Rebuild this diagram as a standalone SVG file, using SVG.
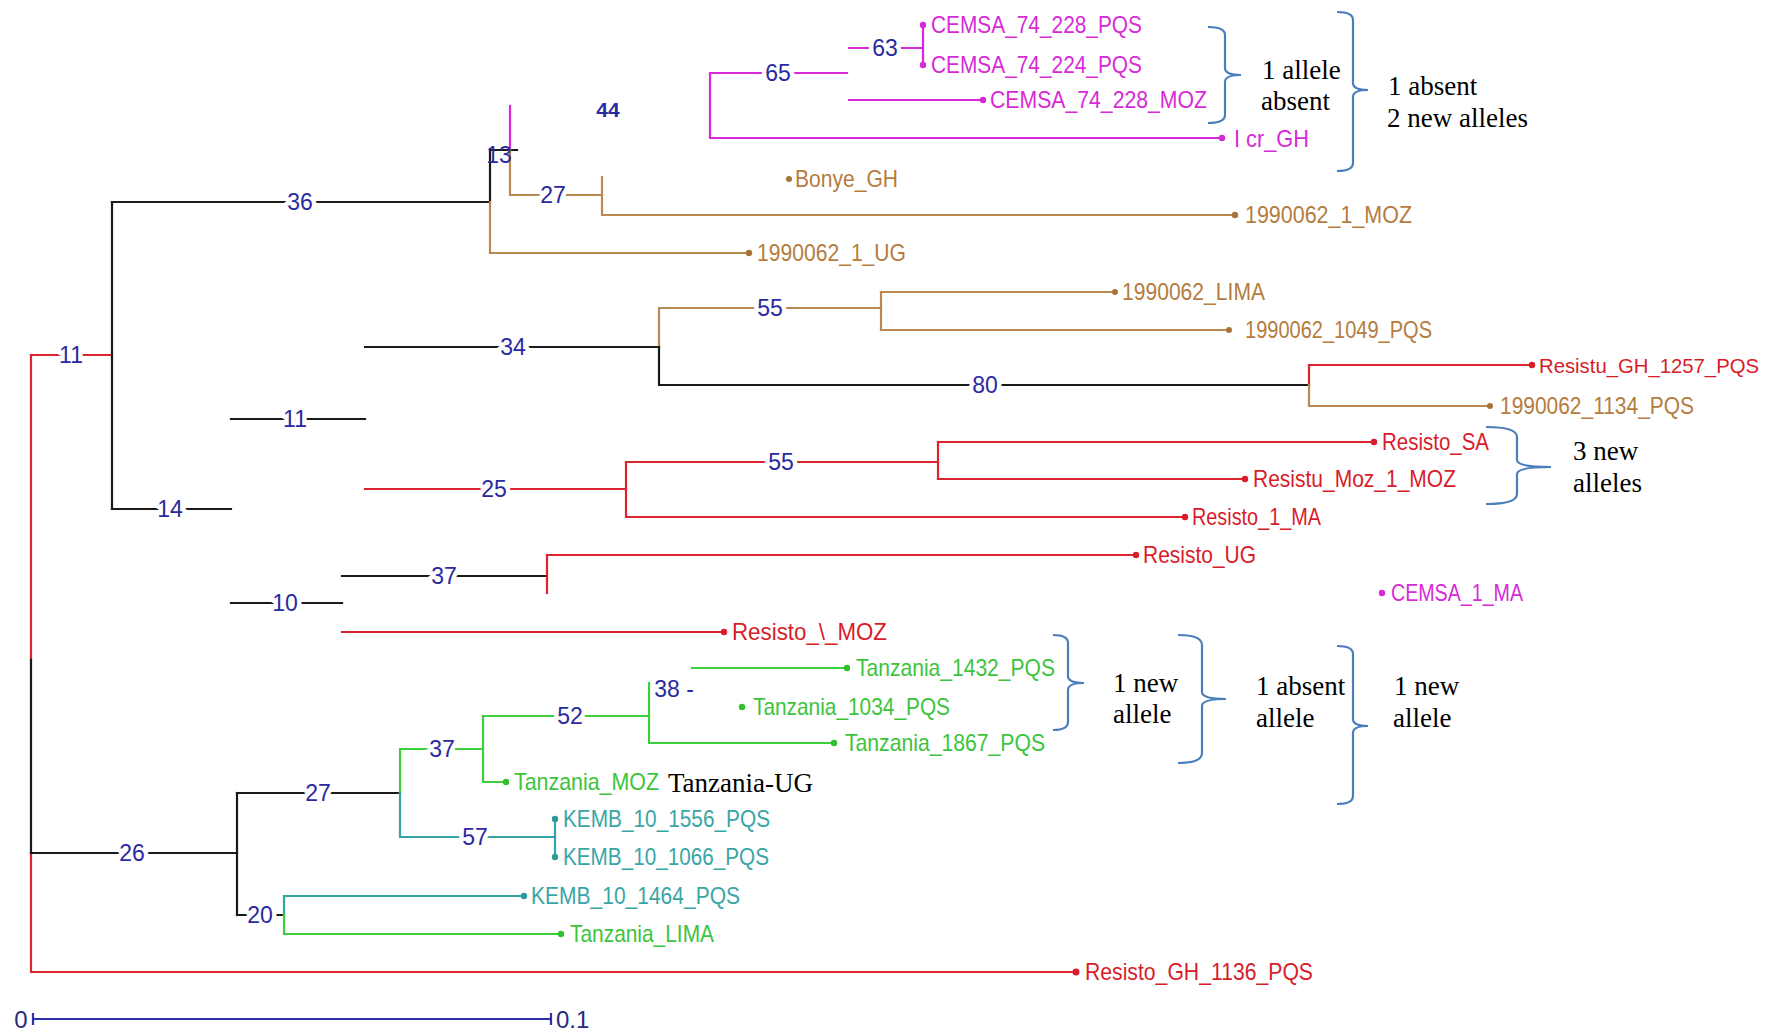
<svg xmlns="http://www.w3.org/2000/svg" width="1782" height="1032" viewBox="0 0 1782 1032">
<style>
.l{fill:none;stroke-width:2.2;stroke-linecap:square}
.k{stroke:#1a1a1a}.r{stroke:#dc2330}.t{stroke:#b88a52}.m{stroke:#d928d9}.g{stroke:#3ccf3c}.c{stroke:#34a3a3}
.lf{font-family:"Liberation Sans",Arial,sans-serif;font-size:24px}
.tr{fill:#d81c2a}.tt{fill:#b57c3e}.tm{fill:#d62ad6}.tg{fill:#3cc43c}.tc{fill:#38a6a6}
.dr{fill:#d81c2a}.dt{fill:#a8733a}.dm{fill:#d62ad6}.dg{fill:#2fbf2f}.dc{fill:#2f9a9a}
.n{font-family:"Liberation Sans",Arial,sans-serif;font-size:23px;fill:#2a2aa0;text-anchor:middle;paint-order:stroke;stroke:#fff;stroke-width:9px;stroke-linejoin:round}
.br{fill:none;stroke:#4a7ebb;stroke-width:2.2}
.a{font-family:"Liberation Serif","Times New Roman",serif;font-size:27px;fill:#000}
</style>
<rect width="1782" height="1032" fill="#fff"/>
<g id="connectors">
<path class="l r" d="M31,355V660"/>
<path class="l k" d="M31,660V853"/>
<path class="l r" d="M31,853V972H1076"/>
<path class="l r" d="M31,355H112"/>
<path class="l k" d="M112,202V509"/>
<path class="l k" d="M112,202H490V150H517"/>
<path class="l t" d="M490,202V253H749"/>
<path class="l m" d="M510,106V150"/>
<path class="l t" d="M510,150V195H602"/>
<path class="l t" d="M602,177V215H1235"/>
<path class="l m" d="M849,48H923"/>
<path class="l m" d="M923,25V65"/>
<path class="l m" d="M847,73H710V138H1222"/>
<path class="l m" d="M849,100H983"/>
<path class="l k" d="M112,509H231"/>
<path class="l k" d="M231,419H365"/>
<path class="l k" d="M231,603H342"/>
<path class="l k" d="M365,347H659"/>
<path class="l t" d="M659,347V308H881"/>
<path class="l t" d="M881,292V330"/>
<path class="l t" d="M881,292H1115"/>
<path class="l t" d="M881,330H1229"/>
<path class="l k" d="M659,347V385H1309"/>
<path class="l r" d="M1309,385V365H1532"/>
<path class="l t" d="M1309,385V406H1490"/>
<path class="l r" d="M365,489H626"/>
<path class="l r" d="M626,462V517H1185"/>
<path class="l r" d="M626,462H938"/>
<path class="l r" d="M938,442V479"/>
<path class="l r" d="M938,442H1374"/>
<path class="l r" d="M938,479H1245"/>
<path class="l k" d="M342,576H547"/>
<path class="l r" d="M547,555V593"/>
<path class="l r" d="M547,555H1136"/>
<path class="l r" d="M342,632H724"/>
<path class="l k" d="M31,853H237"/>
<path class="l k" d="M237,793V915"/>
<path class="l k" d="M237,793H400"/>
<path class="l g" d="M400,793V749H483"/>
<path class="l c" d="M400,793V837H555"/>
<path class="l g" d="M483,716V782H506"/>
<path class="l g" d="M483,716H649"/>
<path class="l g" d="M649,683V743H834"/>
<path class="l g" d="M692,668H847"/>
<path class="l c" d="M555,819V857"/>
<path class="l k" d="M237,915H284"/>
<path class="l c" d="M284,915V896H524"/>
<path class="l g" d="M284,915V934H561"/>
</g>
<g id="node-labels">
<text class="n" x="71" y="363">11</text>
<text class="n" x="300" y="210">36</text>
<text class="n" x="499" y="163" style="stroke-width:0">13</text>
<text class="n" x="608" y="117" style="stroke-width:0;font-weight:bold;font-size:21px">44</text>
<text class="n" x="778" y="81">65</text>
<text class="n" x="885" y="56">63</text>
<text class="n" x="553" y="203">27</text>
<text class="n" x="770" y="316">55</text>
<text class="n" x="513" y="355">34</text>
<text class="n" x="985" y="393">80</text>
<text class="n" x="295" y="427">11</text>
<text class="n" x="494" y="497">25</text>
<text class="n" x="781" y="470">55</text>
<text class="n" x="170" y="517">14</text>
<text class="n" x="444" y="584">37</text>
<text class="n" x="285" y="611">10</text>
<text class="n" x="674" y="697" style="stroke-width:0">38 -</text>
<text class="n" x="570" y="724">52</text>
<text class="n" x="442" y="757">37</text>
<text class="n" x="318" y="801">27</text>
<text class="n" x="475" y="845">57</text>
<text class="n" x="132" y="861">26</text>
<text class="n" x="260" y="923">20</text>
</g>
<g id="leaf-CEMSA_74_228_PQS"><circle class="dm" cx="923" cy="25" r="3.2"/><text class="lf tm" x="931" y="33" textLength="211" lengthAdjust="spacingAndGlyphs">CEMSA_74_228_PQS</text></g>
<g id="leaf-CEMSA_74_224_PQS"><circle class="dm" cx="923" cy="65" r="3.2"/><text class="lf tm" x="931" y="73" textLength="211" lengthAdjust="spacingAndGlyphs">CEMSA_74_224_PQS</text></g>
<g id="leaf-CEMSA_74_228_MOZ"><circle class="dm" cx="983" cy="100" r="3.2"/><text class="lf tm" x="990" y="108" textLength="217" lengthAdjust="spacingAndGlyphs">CEMSA_74_228_MOZ</text></g>
<g id="leaf-Icr_GH"><circle class="dm" cx="1222" cy="138" r="3.2"/><text class="lf tm" x="1234" y="147" textLength="75" lengthAdjust="spacingAndGlyphs">I cr_GH</text></g>
<g id="leaf-Bonye_GH"><circle class="dt" cx="789" cy="179" r="3"/><text class="lf tt" x="795" y="187" textLength="103" lengthAdjust="spacingAndGlyphs">Bonye_GH</text></g>
<g id="leaf-1990062_1_MOZ"><circle class="dt" cx="1235" cy="215" r="3.2"/><text class="lf tt" x="1245" y="223" textLength="167" lengthAdjust="spacingAndGlyphs">1990062_1_MOZ</text></g>
<g id="leaf-1990062_1_UG"><circle class="dt" cx="749" cy="253" r="3.2"/><text class="lf tt" x="757" y="261" textLength="149" lengthAdjust="spacingAndGlyphs">1990062_1_UG</text></g>
<g id="leaf-1990062_LIMA"><circle class="dt" cx="1115" cy="292" r="3"/><text class="lf tt" x="1122" y="300" textLength="143" lengthAdjust="spacingAndGlyphs">1990062_LIMA</text></g>
<g id="leaf-1990062_1049_PQS"><circle class="dt" cx="1229" cy="330" r="3"/><text class="lf tt" x="1245" y="338" textLength="187" lengthAdjust="spacingAndGlyphs">1990062_1049_PQS</text></g>
<g id="leaf-Resistu_GH_1257_PQS"><circle class="dr" cx="1532" cy="365" r="3.2"/><text class="lf tr" x="1539" y="373" style="font-size:21px" textLength="220" lengthAdjust="spacingAndGlyphs">Resistu_GH_1257_PQS</text></g>
<g id="leaf-1990062_1134_PQS"><circle class="dt" cx="1490" cy="406" r="3"/><text class="lf tt" x="1500" y="414" textLength="194" lengthAdjust="spacingAndGlyphs">1990062_1134_PQS</text></g>
<g id="leaf-Resisto_SA"><circle class="dr" cx="1374" cy="442" r="3.2"/><text class="lf tr" x="1382" y="450" textLength="107" lengthAdjust="spacingAndGlyphs">Resisto_SA</text></g>
<g id="leaf-Resistu_Moz_1_MOZ"><circle class="dr" cx="1245" cy="479" r="3.2"/><text class="lf tr" x="1253" y="487" textLength="203" lengthAdjust="spacingAndGlyphs">Resistu_Moz_1_MOZ</text></g>
<g id="leaf-Resisto_1_MA"><circle class="dr" cx="1185" cy="517" r="3.2"/><text class="lf tr" x="1192" y="525" textLength="129" lengthAdjust="spacingAndGlyphs">Resisto_1_MA</text></g>
<g id="leaf-Resisto_UG"><circle class="dr" cx="1136" cy="555" r="3.2"/><text class="lf tr" x="1143" y="563" textLength="113" lengthAdjust="spacingAndGlyphs">Resisto_UG</text></g>
<g id="leaf-CEMSA_1_MA"><circle class="dm" cx="1382" cy="593" r="3.2"/><text class="lf tm" x="1391" y="601" textLength="132" lengthAdjust="spacingAndGlyphs">CEMSA_1_MA</text></g>
<g id="leaf-Resisto_MOZ"><circle class="dr" cx="724" cy="632" r="3.2"/><text class="lf tr" x="732" y="640" textLength="155" lengthAdjust="spacingAndGlyphs">Resisto_\_MOZ</text></g>
<g id="leaf-Tanzania_1432_PQS"><circle class="dg" cx="847" cy="668" r="3.2"/><text class="lf tg" x="856" y="676" textLength="199" lengthAdjust="spacingAndGlyphs">Tanzania_1432_PQS</text></g>
<g id="leaf-Tanzania_1034_PQS"><circle class="dg" cx="742" cy="707" r="3.2"/><text class="lf tg" x="753" y="715" textLength="197" lengthAdjust="spacingAndGlyphs">Tanzania_1034_PQS</text></g>
<g id="leaf-Tanzania_1867_PQS"><circle class="dg" cx="834" cy="743" r="3.2"/><text class="lf tg" x="845" y="751" textLength="200" lengthAdjust="spacingAndGlyphs">Tanzania_1867_PQS</text></g>
<g id="leaf-Tanzania_MOZ"><circle class="dg" cx="506" cy="782" r="3.2"/><text class="lf tg" x="514" y="790" textLength="145" lengthAdjust="spacingAndGlyphs">Tanzania_MOZ</text></g>
<g id="leaf-KEMB_10_1556_PQS"><circle class="dc" cx="555" cy="819" r="3.2"/><text class="lf tc" x="563" y="827" textLength="207" lengthAdjust="spacingAndGlyphs">KEMB_10_1556_PQS</text></g>
<g id="leaf-KEMB_10_1066_PQS"><circle class="dc" cx="555" cy="857" r="3.2"/><text class="lf tc" x="563" y="865" textLength="206" lengthAdjust="spacingAndGlyphs">KEMB_10_1066_PQS</text></g>
<g id="leaf-KEMB_10_1464_PQS"><circle class="dc" cx="524" cy="896" r="3.2"/><text class="lf tc" x="531" y="904" textLength="209" lengthAdjust="spacingAndGlyphs">KEMB_10_1464_PQS</text></g>
<g id="leaf-Tanzania_LIMA"><circle class="dg" cx="561" cy="934" r="3.2"/><text class="lf tg" x="570" y="942" textLength="144" lengthAdjust="spacingAndGlyphs">Tanzania_LIMA</text></g>
<g id="leaf-Resisto_GH_1136_PQS"><circle class="dr" cx="1076" cy="972" r="3.5"/><text class="lf tr" x="1085" y="980" textLength="228" lengthAdjust="spacingAndGlyphs">Resisto_GH_1136_PQS</text></g>
<g id="scale-bar">
<path d="M33,1019H551M33,1013V1025M551,1013V1025" fill="none" stroke="#3030a8" stroke-width="2.2"/>
<text x="21" y="1028" font-family="Liberation Sans,Arial,sans-serif" font-size="24" fill="#2a2a7a" text-anchor="middle">0</text>
<text x="556" y="1028" font-family="Liberation Sans,Arial,sans-serif" font-size="24" fill="#2a2a7a">0.1</text>
</g>
<g id="annotations">
<path class="br" d="M1208,27Q1225,27 1225,35V68Q1225,75 1241,75Q1225,75 1225,82V115Q1225,123 1208,123"/>
<path class="br" d="M1337,12Q1353,12 1353,20V83Q1353,90 1368,90Q1353,90 1353,97V163Q1353,171 1337,171"/>
<path class="br" d="M1486,427Q1517,427 1517,437V460Q1517,467 1551,467Q1517,467 1517,474V494Q1517,504 1486,504"/>
<path class="br" d="M1053,635Q1068,635 1068,643V676Q1068,683 1084,683Q1068,683 1068,690V722Q1068,730 1053,730"/>
<path class="br" d="M1178,635Q1202,635 1202,645V692Q1202,699 1226,699Q1202,699 1202,706V753Q1202,763 1178,763"/>
<path class="br" d="M1337,646Q1353,646 1353,654V719Q1353,726 1368,726Q1353,726 1353,733V796Q1353,804 1337,804"/>
<text class="a" x="1262" y="79">1 allele</text>
<text class="a" x="1261" y="110">absent</text>
<text class="a" x="1388" y="95">1 absent</text>
<text class="a" x="1387" y="127">2 new alleles</text>
<text class="a" x="1573" y="460">3 new</text>
<text class="a" x="1573" y="492">alleles</text>
<text class="a" x="1113" y="692">1 new</text>
<text class="a" x="1113" y="723">allele</text>
<text class="a" x="1256" y="695">1 absent</text>
<text class="a" x="1256" y="727">allele</text>
<text class="a" x="1394" y="695">1 new</text>
<text class="a" x="1393" y="727">allele</text>
<text class="a" x="668" y="792">Tanzania-UG</text>
</g>
</svg>
